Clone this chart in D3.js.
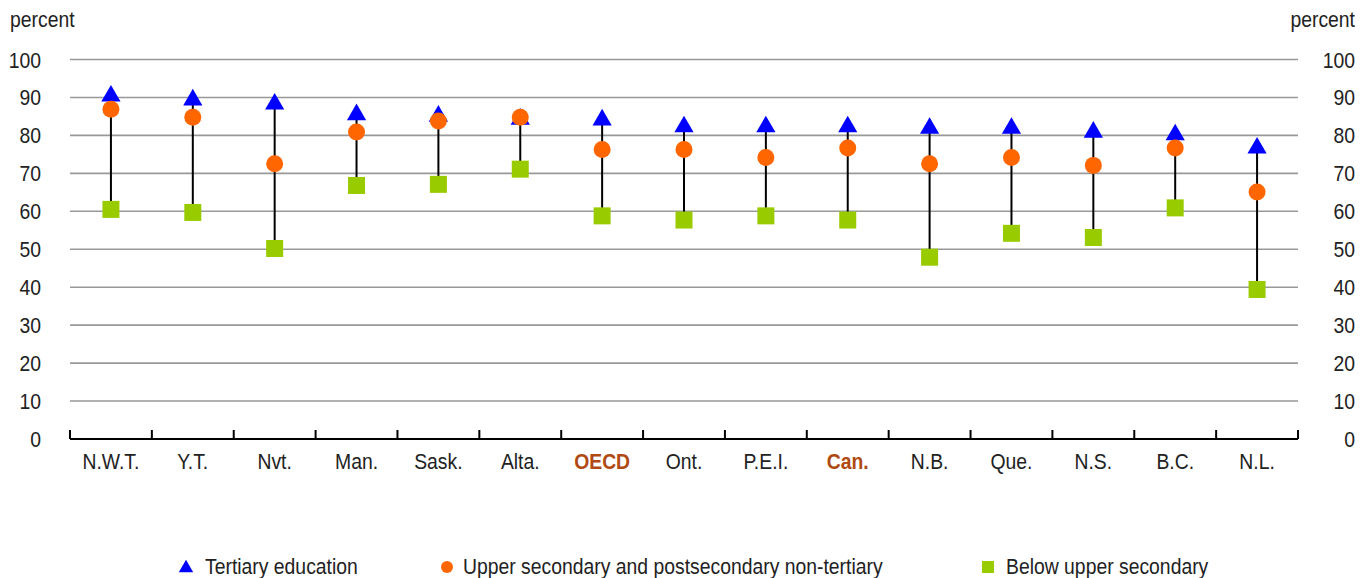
<!DOCTYPE html>
<html>
<head>
<meta charset="utf-8">
<script src="https://cdn.jsdelivr.net/npm/d3@7"></script>
<style>
  body { margin: 0; background: #fff; }
  svg text { font-family: "Liberation Sans", Arial, sans-serif; fill: #222; font-size: 22px; }
</style>
</head>
<body>
<div id="main"></div>
<script>
// data
const regions = ['N.W.T.', 'Y.T.', 'Nvt.', 'Man.', 'Sask.', 'Alta.', 'OECD', 'Ont.', 'P.E.I.', 'Can.', 'N.B.', 'Que.', 'N.S.', 'B.C.', 'N.L.'];
const highlighted = ['OECD', 'Can.'];
const tertiary = [90.9, 89.9, 88.8, 86.0, 85.6, 84.8, 84.6, 82.8, 82.8, 82.8, 82.4, 82.4, 81.4, 80.7, 77.2];
const upperSecondary = [86.9, 84.8, 72.5, 80.9, 83.8, 84.8, 76.3, 76.3, 74.2, 76.7, 72.5, 74.2, 72.1, 76.7, 65.1];
const belowUpper = [60.5, 59.7, 50.2, 66.8, 67.1, 71.1, 58.8, 57.7, 58.8, 57.7, 47.9, 54.2, 53.1, 60.9, 39.4];
const yTicks = [0, 10, 20, 30, 40, 50, 60, 70, 80, 90, 100];
const legendLabels = ['Tertiary education', 'Upper secondary and postsecondary non-tertiary', 'Below upper secondary'];

function demo() {
  let width = 1369;
  let height = 578;
  let left = 70, right = 1298, top = 59.5, bottom = 439;
  let squeeze = 0.88; // narrow type like the original

  let svg = d3.select('#main').append('svg').attr('width', width).attr('height', height);

  let x = d3.scaleBand().domain(regions).range([left, right]);
  let y = d3.scaleLinear().domain([0, 100]).range([bottom, top]);

  // condensed text placed at (tx, ty)
  function label(sel, tx, ty) {
    return sel.attr('transform', (d, i) => `translate(${typeof tx === 'function' ? tx(d, i) : tx},${typeof ty === 'function' ? ty(d, i) : ty}) scale(${squeeze},1)`);
  }

  // gridlines
  svg.append('g').selectAll('line').data(yTicks.filter(d => d > 0)).join('line')
    .attr('x1', left).attr('x2', right)
    .attr('y1', d => y(d)).attr('y2', d => y(d))
    .attr('stroke', '#999').attr('stroke-width', 1.6);

  // y labels both sides
  label(svg.append('g').selectAll('text').data(yTicks).join('text'), 41, d => y(d) + 8)
    .attr('text-anchor', 'end').text(d => d);
  label(svg.append('g').selectAll('text').data(yTicks).join('text'), 1355, d => y(d) + 8)
    .attr('text-anchor', 'end').text(d => d);
  label(svg.append('text').datum(0), 10, 27).text('percent');
  label(svg.append('text').datum(0), 1355, 27).attr('text-anchor', 'end').text('percent');

  // x axis: line with ticks pointing up at band edges
  let edges = regions.map(d => x(d)).concat([right]);
  svg.append('line').attr('x1', left).attr('x2', right).attr('y1', bottom).attr('y2', bottom)
    .attr('stroke', '#000').attr('stroke-width', 2);
  svg.append('g').selectAll('line').data(edges).join('line')
    .attr('x1', d => d).attr('x2', d => d).attr('y1', bottom).attr('y2', bottom - 9)
    .attr('stroke', '#000').attr('stroke-width', 2);
  label(svg.append('g').selectAll('text').data(regions).join('text'), d => x(d) + x.bandwidth() / 2, 469)
    .attr('text-anchor', 'middle')
    .style('font-weight', d => highlighted.includes(d) ? 'bold' : 'normal')
    .style('fill', d => highlighted.includes(d) ? '#b04a12' : '#222')
    .text(d => d);

  let cx = (d, i) => x(regions[i]) + x.bandwidth() / 2;

  // range lines
  svg.append('g').selectAll('line').data(regions).join('line')
    .attr('x1', cx).attr('x2', cx)
    .attr('y1', (d, i) => y(Math.min(tertiary[i], upperSecondary[i], belowUpper[i])))
    .attr('y2', (d, i) => y(Math.max(tertiary[i], upperSecondary[i], belowUpper[i])))
    .attr('stroke', '#000').attr('stroke-width', 2);

  let tri = d3.symbol().type(d3.symbolTriangle).size(160);
  let sq = 17;

  svg.append('g').selectAll('path').data(tertiary).join('path')
    .attr('d', tri).attr('fill', '#0000ff')
    .attr('transform', (d, i) => `translate(${cx(d, i)},${y(d) + 2})`);
  svg.append('g').selectAll('circle').data(upperSecondary).join('circle')
    .attr('cx', cx).attr('cy', d => y(d)).attr('r', 8.5).attr('fill', '#ff6600');
  svg.append('g').selectAll('rect').data(belowUpper).join('rect')
    .attr('x', (d, i) => cx(d, i) - sq / 2).attr('y', d => y(d) - sq / 2)
    .attr('width', sq).attr('height', sq).attr('fill', '#99cc00');

  // legend
  let lg = svg.append('g');
  lg.append('path').attr('d', d3.symbol().type(d3.symbolTriangle).size(90)).attr('fill', '#0000ff')
    .attr('transform', 'translate(186,568)');
  label(lg.append('text').datum(0), 205, 574).text(legendLabels[0]);
  lg.append('circle').attr('cx', 447).attr('cy', 567).attr('r', 6).attr('fill', '#ff6600');
  label(lg.append('text').datum(0), 463, 574).text(legendLabels[1]);
  lg.append('rect').attr('x', 982).attr('y', 561).attr('width', 12).attr('height', 12).attr('fill', '#99cc00');
  label(lg.append('text').datum(0), 1006, 574).text(legendLabels[2]);
}
demo();
</script>
</body>
</html>
